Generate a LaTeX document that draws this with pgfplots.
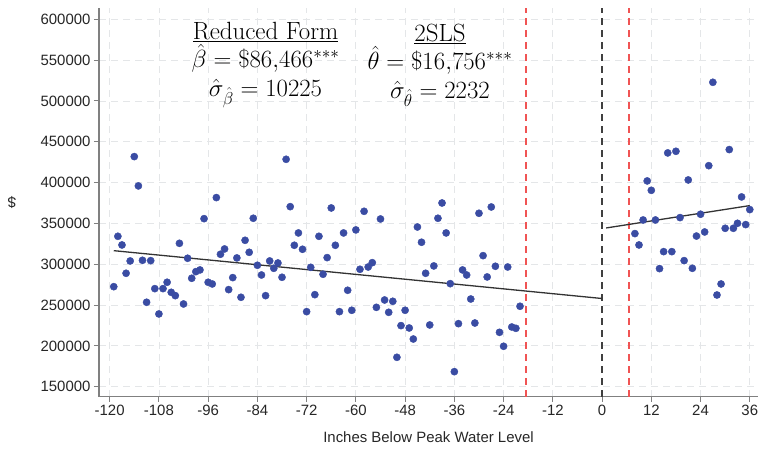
\documentclass[border=0pt]{standalone}
\usepackage{fontspec}
\setsansfont{Liberation Sans}
\usepackage{pgfplots}
\pgfplotsset{compat=1.18}
\definecolor{dotblue}{RGB}{58,76,163}
\definecolor{refred}{RGB}{240,84,84}
\definecolor{gridgray}{RGB}{228,230,232}

\begin{document}
\begin{tikzpicture}
\useasboundingbox (-99bp,-52.3bp) rectangle (661bp,396.7bp);
\begin{axis}[
    scale only axis,
    width=659bp, height=388.7bp,
    xmin=-122.6, xmax=38,
    ymin=137750, ymax=613800,
    xtick={-120,-108,...,36},
    ytick={150000,200000,...,600000},
    scaled y ticks=false,
    /pgf/number format/fixed,
    /pgf/number format/precision=0,
    /pgf/number format/1000 sep={},
    /pgf/number format/assume math mode=true,
    ticklabel style={font=\sffamily\fontsize{15}{18}\selectfont, text=black!85},
    axis x line*=bottom, axis y line*=left,
    axis line style={-, gray, line width=1.4bp},
    tick align=outside,
    major tick length=5bp,
    tick style={gray, line width=1bp},
    grid=major,
    major grid style={gridgray, line width=0.8bp, dash pattern=on 7bp off 5bp},
    xlabel={Inches Below Peak Water Level},
    xlabel style={at={(axis description cs:0.5,0)}, anchor=north, yshift=-31bp,
        font=\sffamily\fontsize{15}{18}\selectfont, text=black!85},
    ylabel={\$},
    ylabel style={at={(axis description cs:-0.132,0.5)}, anchor=center, rotate=90,
        font=\sffamily\fontsize{15}{18}\selectfont, text=black!85},
    clip=false,
]
% cutoff and bandwidth lines
\addplot[refred, line width=1.6bp, dash pattern=on 7bp off 5bp] coordinates {(-18.6,137750) (-18.6,613800)};
\addplot[refred, line width=1.6bp, dash pattern=on 7bp off 5bp] coordinates {(6.6,137750) (6.6,613800)};
\addplot[black!75, line width=1.6bp, dash pattern=on 7bp off 5bp] coordinates {(0,137750) (0,613800)};

% binned means
\addplot[only marks, mark=*, mark size=3.6bp, color=dotblue] coordinates {
(-119,272500) (-118,334200) (-117,323600) (-116,288900) (-115,304000)
(-114,431800) (-113,395900) (-112,304800) (-111,253400) (-110,304400)
(-109,270100) (-108,239100) (-107,270100) (-106,277900) (-105,265600)
(-104,261500) (-103,325600) (-102,251300) (-101,307300) (-100,282800)
(-99,290900) (-98,293000) (-97,355800) (-96,277900) (-95,275800)
(-94,381600) (-93,312200) (-92,318700) (-91,268900) (-90,283600)
(-89,307700) (-88,259500) (-87,329300) (-86,314600) (-85,356300)
(-84,298700) (-83,286800) (-82,261500) (-81,304000) (-80,295000)
(-79,301500) (-78,284000) (-77,428500) (-76,370500) (-75,323200)
(-74,338300) (-73,318300) (-72,241900) (-71,296200) (-70,262700)
(-69,334200) (-68,287700) (-67,308100) (-66,368900) (-65,323200)
(-64,241900) (-63,338300) (-62,268100) (-61,243600) (-60,342000)
(-59,293800) (-58,364800) (-57,296600) (-56,301900) (-55,247200)
(-54,355400) (-53,256200) (-52,241100) (-51,254600) (-50,186000)
(-49,224800) (-48,243600) (-47,221900) (-46,208400) (-45,345600)
(-44,326900) (-43,288900) (-42,225600) (-41,297900) (-40,356300)
(-39,375000) (-38,338300) (-37,276200) (-36,168400) (-35,227200)
(-34,293000) (-33,286800) (-32,257400) (-31,228000) (-30,362400)
(-29,310500) (-28,284400) (-27,370100) (-26,297500) (-25,216600)
(-24,199500) (-23,296600) (-22,223100) (-21,221500) (-20,248500)
(8,337500) (9,323600) (10,354200) (11,402000) (12,390500)
(13,354200) (14,294600) (15,315400) (16,436300) (17,315400)
(18,438300) (19,357100) (20,304400) (21,403200) (22,295000)
(23,334500) (24,361200) (25,339500) (26,420700) (27,522800)
(28,262300) (29,275800) (30,344000) (31,440400) (32,344000)
(33,350100) (34,382400) (35,348500) (36,366900)
};

% fitted lines
\addplot[black!80, line width=1.3bp] coordinates {(-119,316600) (0,258000)};
\addplot[black!80, line width=1.3bp] coordinates {(1,344400) (36,371800)};

% estimates
\node[font=\fontsize{25}{28.5}\selectfont, align=center, inner sep=0pt] at (axis cs:-82,544000)
  {\underline{Reduced Form}\\ $\hat{\beta} = \$86{,}466^{***}$\\ $\hat{\sigma}_{\hat{\beta}} = 10225$};
\node[font=\fontsize{25}{28.5}\selectfont, align=center, inner sep=0pt] at (axis cs:-39.5,544000)
  {\underline{2SLS}\\ $\hat{\theta} = \$16{,}756^{***}$\\ $\hat{\sigma}_{\hat{\theta}} = 2232$};
\end{axis}
\end{tikzpicture}
\end{document}
